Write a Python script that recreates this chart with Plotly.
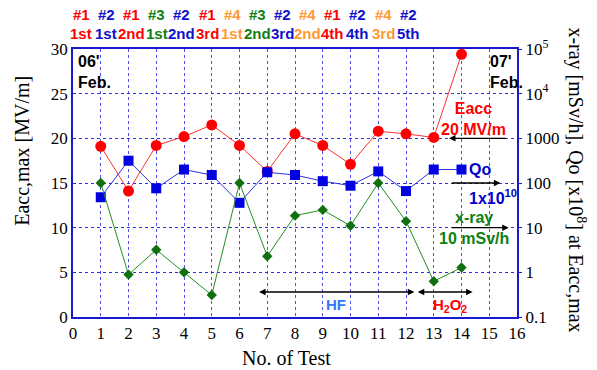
import plotly.graph_objects as go

tests = list(range(1, 15))
eacc = [19.1, 14.1, 19.2, 20.2, 21.5, 19.2, 16.3, 20.5, 19.2, 17.1, 20.8, 20.5, 20.1, 29.4]
qo_e8 = [48, 316, 76, 200, 151, 36, 174, 151, 110, 87, 182, 66, 200, 200]
xray = [100, 0.89, 3.2, 1.0, 0.31, 100, 2.3, 18.6, 25, 11, 100, 14, 0.63, 1.28]

cav_labels = ["#1", "#2", "#1", "#3", "#2", "#1", "#4", "#3", "#2", "#4", "#1", "#2", "#4", "#2"]
run_labels = ["1st", "1st", "2nd", "1st", "2nd", "3rd", "1st", "2nd", "3rd", "2nd", "4th", "4th", "3rd", "5th"]
cav_colors = {"#1": "#FF0000", "#2": "#1010CC", "#3": "#108010", "#4": "#FF9933"}

right_tickvals = [0.1, 1, 10, 100, 1000, 1e4, 1e5]
right_ticktext = ["0.1", "1", "10", "100", "1000", "10<sup>4</sup>", "10<sup>5</sup>"]

BLUE = "#1818D0"
SERIF = "Liberation Serif"
SANS = "Liberation Sans"

fig = go.Figure()
fig.add_trace(go.Scatter(x=tests, y=eacc, mode="lines+markers", yaxis="y",
                         line=dict(color="#FF3030", width=1),
                         marker=dict(symbol="circle", size=11, color="#FF0000"), showlegend=False))
fig.add_trace(go.Scatter(x=tests, y=qo_e8, mode="lines+markers", yaxis="y2",
                         line=dict(color="#3030E0", width=1),
                         marker=dict(symbol="square", size=10, color="#0000E0"), showlegend=False))
fig.add_trace(go.Scatter(x=tests, y=xray, mode="lines+markers", yaxis="y2",
                         line=dict(color="#209020", width=1),
                         marker=dict(symbol="diamond", size=8, color="#107010"), showlegend=False))

ann = []
# top labels
for i, (c, r) in enumerate(zip(cav_labels, run_labels)):
    xp = (81 + i * 25.2 - 72.7) / 27.8
    col = cav_colors[c]
    ann.append(dict(x=xp, y=1.13, xref="x", yref="paper", text=f"<b>{c}</b>", showarrow=False,
                    font=dict(family=SANS, size=15, color=col), xanchor="center", yanchor="middle"))
    ann.append(dict(x=xp, y=1.058, xref="x", yref="paper", text=f"<b>{r}</b>", showarrow=False,
                    font=dict(family=SANS, size=15, color=col), xanchor="center", yanchor="middle"))

# dates
ann.append(dict(x=0.1, y=27.4, xref="x", yref="y", text="<b>06'<br>Feb.</b>", showarrow=False, align="left",
                font=dict(family=SANS, size=16, color="black"), xanchor="left", yanchor="middle"))
ann.append(dict(x=14.95, y=27.4, xref="x", yref="y", text="<b>07'<br>Feb.</b>", showarrow=False, align="left",
                font=dict(family=SANS, size=16, color="black"), xanchor="left", yanchor="middle"))

# series labels
ann.append(dict(x=14.45, y=22.2, xref="x", yref="y", text="<b>Eacc<br>20 MV/m</b>", showarrow=False, align="center",
                font=dict(family=SANS, size=16, color="#FF0000"), xanchor="center", yanchor="middle"))
ann.append(dict(x=13.55, y=20, ax=15.65, ay=20, xref="x", yref="y", axref="x", ayref="y", text="",
                showarrow=True, arrowhead=2, arrowsize=1, arrowwidth=1.3, arrowcolor="black"))
ann.append(dict(x=14.2, y=16.5, xref="x", yref="y", text="<b>Qo</b>", showarrow=False,
                font=dict(family=SANS, size=16, color="#0000CC"), xanchor="left", yanchor="middle"))
ann.append(dict(x=15.4, y=15.0, ax=13.6, ay=15.0, xref="x", yref="y", axref="x", ayref="y", text="",
                showarrow=True, arrowhead=2, arrowsize=1, arrowwidth=1.3, arrowcolor="black"))
ann.append(dict(x=15.15, y=13.4, xref="x", yref="y", text="<b>1x10<sup>10</sup></b>", showarrow=False,
                font=dict(family=SANS, size=16, color="#0000CC"), xanchor="center", yanchor="middle"))
ann.append(dict(x=14.45, y=10.0, xref="x", yref="y", text="<b>x-ray<br>10 mSv/h</b>", showarrow=False, align="center",
                font=dict(family=SANS, size=16, color="#108010"), xanchor="center", yanchor="middle"))
ann.append(dict(x=15.7, y=10.0, ax=13.6, ay=10.0, xref="x", yref="y", axref="x", ayref="y", text="",
                showarrow=True, arrowhead=2, arrowsize=1, arrowwidth=1.3, arrowcolor="black"))

# treatment arrows
ann.append(dict(x=12.3, y=2.8, ax=6.65, ay=2.8, xref="x", yref="y", axref="x", ayref="y", text="",
                showarrow=True, arrowhead=2, startarrowhead=2, arrowside="end+start", arrowsize=1,
                arrowwidth=1.3, arrowcolor="black"))
ann.append(dict(x=14.4, y=2.8, ax=12.37, ay=2.8, xref="x", yref="y", axref="x", ayref="y", text="",
                showarrow=True, arrowhead=2, startarrowhead=2, arrowside="end+start", arrowsize=1,
                arrowwidth=1.3, arrowcolor="black"))
ann.append(dict(x=9.47, y=1.4, xref="x", yref="y", text="<b>HF</b>", showarrow=False,
                font=dict(family=SANS, size=15, color="#3377FF"), xanchor="center", yanchor="middle"))
ann.append(dict(x=13.6, y=1.3, xref="x", yref="y", text="<b>H<sub>2</sub>O<sub>2</sub></b>", showarrow=False,
                font=dict(family=SANS, size=15, color="#FF0000"), xanchor="center", yanchor="middle"))

# axis titles
ann.append(dict(x=-0.115, y=0.62, xref="paper", yref="paper", text="Eacc,max [MV/m]", textangle=-90,
                showarrow=False, font=dict(family=SERIF, size=20, color="black"),
                xanchor="center", yanchor="middle"))
ann.append(dict(x=0.48, y=-0.153, xref="paper", yref="paper", text="No. of Test", showarrow=False,
                font=dict(family=SERIF, size=20, color="black"), xanchor="center", yanchor="middle"))
ann.append(dict(x=1.135, y=0.51, xref="paper", yref="paper",
                text="x-ray [mSv/h], Qo [x10<sup>8</sup>] at Eacc,max", textangle=90,
                showarrow=False, font=dict(family=SERIF, size=20, color="black"),
                xanchor="center", yanchor="middle"))

fig.update_layout(
    width=597, height=370,
    margin=dict(l=73, r=80, t=49, b=53),
    paper_bgcolor="white", plot_bgcolor="white",
    annotations=ann,
    xaxis=dict(range=[0, 16], tickmode="linear", tick0=0, dtick=1, showgrid=True,
               gridcolor="#5050E8", griddash="dot", gridwidth=1,
               showline=True, linecolor=BLUE, linewidth=1.5, mirror=True,
               ticks="", zeroline=False,
               tickfont=dict(family=SERIF, size=17, color="black")),
    yaxis=dict(range=[0, 30], tickmode="linear", tick0=0, dtick=5, showgrid=True,
               gridcolor="#3030E0", griddash="dot", gridwidth=1,
               showline=True, linecolor=BLUE, linewidth=1.5, mirror=True,
               ticks="", zeroline=False,
               tickfont=dict(family=SERIF, size=17, color="black")),
    yaxis2=dict(type="log", range=[-1, 5], overlaying="y", side="right",
                tickvals=right_tickvals, ticktext=right_ticktext,
                showgrid=False, zeroline=False, showline=False,
                ticks="outside", ticklen=4, tickcolor=BLUE,
                tickfont=dict(family=SERIF, size=17, color="black")),
)

fig.write_html("out.html")
